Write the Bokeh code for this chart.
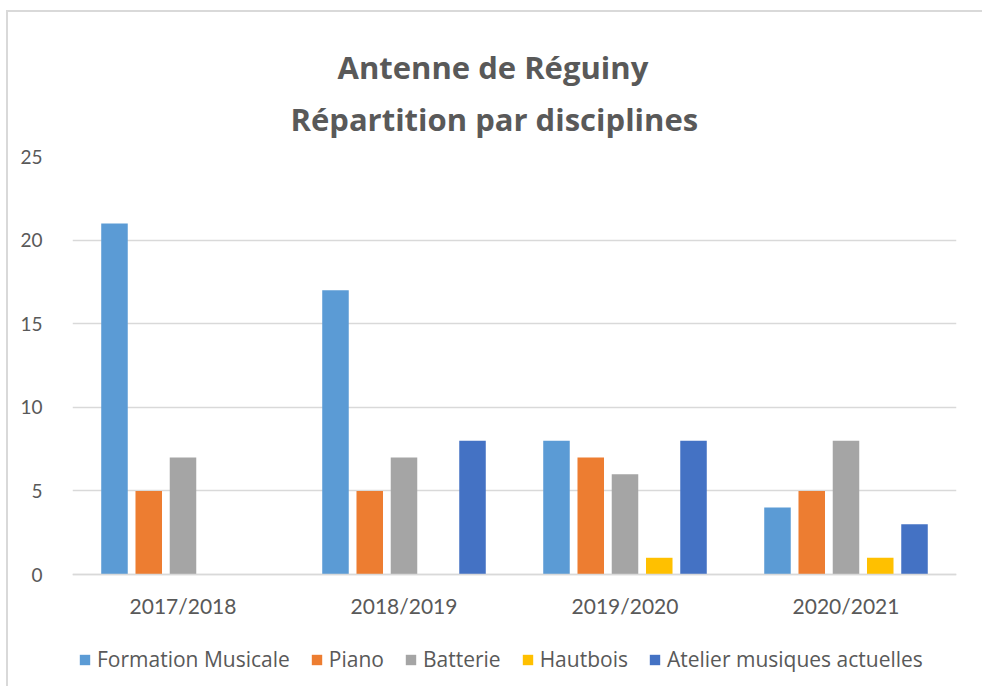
from bokeh.plotting import figure
from bokeh.models import (FactorRange, Range1d, FixedTicker, Legend, LegendItem, Title,
                          ColumnDataSource)
from bokeh.transform import dodge
from bokeh.embed import file_html
from bokeh.resources import INLINE

years = ["2017/2018", "2018/2019", "2019/2020", "2020/2021"]
series_names = ["Formation Musicale", "Piano", "Batterie", "Hautbois", "Atelier musiques actuelles"]
formation = [21, 17, 8, 4]
piano = [5, 5, 7, 5]
batterie = [7, 7, 6, 8]
hautbois = [0, 0, 1, 1]
atelier = [0, 8, 8, 3]
colors = ["#5B9BD5", "#ED7D31", "#A5A5A5", "#FFC000", "#4472C4"]
y_ticks = [0, 5, 10, 15, 20, 25]
title_lines = ["Antenne de Réguiny", "Répartition par disciplines"]

FONT = "Lato"
TFONT = "Open Sans"
TXT = "#595959"
GRID = "#D9D9D9"

# layout: the plotting area (0..25) is 418px tall; the frame extends below it
# so that the category labels and the legend live inside the frame.
PLOT_H = 418
FRAME_H = 530
Y_MAX = 25
y_min = -(FRAME_H - PLOT_H) * Y_MAX / PLOT_H

src = ColumnDataSource(dict(years=years, s0=formation, s1=piano, s2=batterie, s3=hautbois, s4=atelier))

p = figure(x_range=FactorRange(*years, range_padding=0), y_range=Range1d(y_min, Y_MAX),
           frame_width=884, frame_height=FRAME_H, output_backend="svg", toolbar_location=None,
           min_border_left=64, min_border_right=26, min_border_top=144, min_border_bottom=0)
p.styles = {"margin-left": "6px", "margin-top": "10px",
            "border-left": "2px solid #D9D9D9", "border-top": "2px solid #D9D9D9"}
p.outline_line_color = None
p.background_fill_color = "white"
p.border_fill_color = "white"

offsets = [-0.31, -0.155, 0.0, 0.155, 0.31]
renderers = []
for i in range(5):
    r = p.vbar(x=dodge("years", offsets[i], range=p.x_range), top="s%d" % i, width=0.12,
               source=src, fill_color=colors[i], line_color=None)
    renderers.append(r)

# axes
p.yaxis.ticker = FixedTicker(ticks=y_ticks)
p.yaxis.axis_line_color = None
p.yaxis.major_tick_line_color = None
p.yaxis.minor_tick_line_color = None
p.yaxis.major_label_text_font = FONT
p.yaxis.major_label_text_font_size = "19px"
p.yaxis.major_label_text_color = TXT
p.yaxis.major_label_standoff = 24

p.xaxis.fixed_location = 0
p.xaxis.axis_line_color = GRID
p.xaxis.axis_line_width = 1.5
p.xaxis.major_tick_line_color = None
p.xaxis.minor_tick_line_color = None
p.xaxis.major_label_text_font = FONT
p.xaxis.major_label_text_font_size = "21px"
p.xaxis.major_label_text_color = TXT
p.xaxis.major_label_standoff = 12

p.xgrid.grid_line_color = None
p.ygrid.grid_line_color = GRID
p.ygrid.grid_line_width = 1.5
p.ygrid.ticker = FixedTicker(ticks=y_ticks)

# title: second line added first (closest to the plot)
p.add_layout(Title(text=title_lines[1], align="left", offset=218, standoff=33,
                   text_font=TFONT, text_font_style="bold", text_font_size="31px",
                   text_line_height=0.8, text_color=TXT), "above")
p.add_layout(Title(text=title_lines[0], align="left", offset=265, standoff=-16,
                   text_font=TFONT, text_font_style="bold", text_font_size="31px",
                   text_color=TXT), "above")

legend = Legend(items=[LegendItem(label=series_names[i], renderers=[renderers[i]]) for i in range(5)],
                orientation="horizontal", location=(6, 13),
                label_text_font=TFONT, label_text_font_size="21px", label_text_color=TXT,
                glyph_width=13, glyph_height=13, label_standoff=6, spacing=20,
                padding=0, margin=0, border_line_color=None, background_fill_alpha=0)
p.add_layout(legend, "center")

open("out.html", "w").write(file_html(p, INLINE))
